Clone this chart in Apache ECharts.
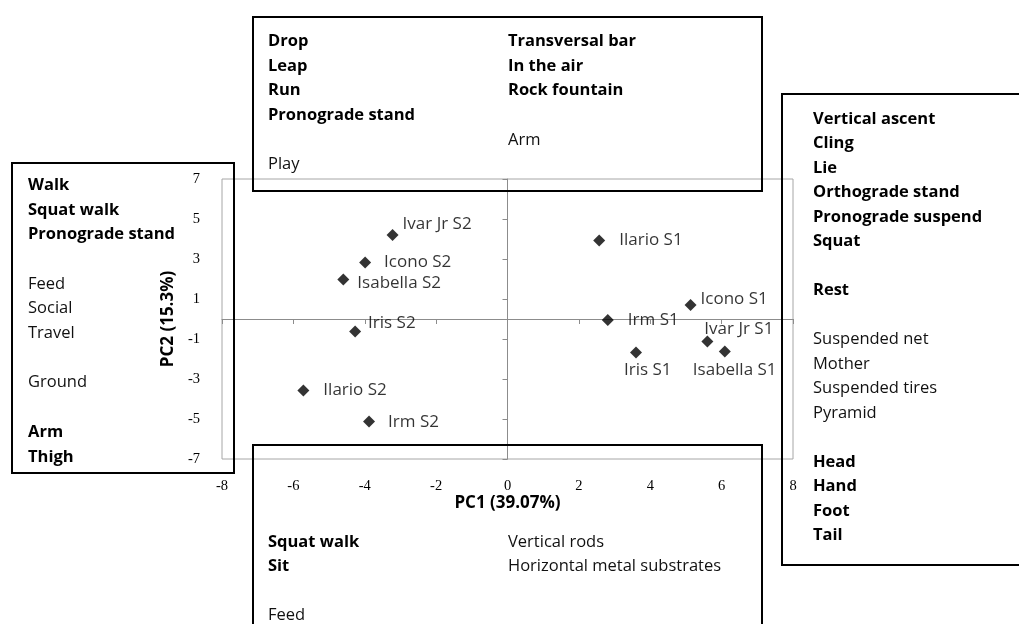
<!DOCTYPE html>
<html>
<head>
<meta charset="utf-8">
<script src="https://cdn.jsdelivr.net/npm/echarts@6/dist/echarts.min.js"></script>
<style>
html,body{margin:0;padding:0;background:#fff;}
#chart{width:1019px;height:624px;}
</style>
</head>
<body>
<div id="chart"></div>
<script>
// ---- data ----
const subjects = ['Ivar Jr S2','Icono S2','Isabella S2','Iris S2','Ilario S2','Irm S2',
                  'Ilario S1','Icono S1','Irm S1','Ivar Jr S1','Iris S1','Isabella S1'];
const pc1 = [-3.22,-3.99,-4.60,-4.27,-5.72,-3.88, 2.57,5.13,2.81,5.60,3.60,6.09];
const pc2 = [ 4.20, 2.82, 1.98,-0.63,-3.58,-5.13, 3.92,0.70,-0.05,-1.13,-1.68,-1.63];
const xAxisName = 'PC1 (39.07%)';
const yAxisName = 'PC2 (15.3%)';

// box texts: [text, bold]
const leftBoxLines = [['Walk',1],['Squat walk',1],['Pronograde stand',1],['',0],['Feed',0],['Social',0],['Travel',0],['',0],['Ground',0],['',0],['Arm',1],['Thigh',1]];
const topBoxLeft = [['Drop',1],['Leap',1],['Run',1],['Pronograde stand',1],['',0],['Play',0]];
const topBoxRight = [['Transversal bar',1],['In the air',1],['Rock fountain',1],['',0],['Arm',0]];
const rightBoxLines = [['Vertical ascent',1],['Cling',1],['Lie',1],['Orthograde stand',1],['Pronograde suspend',1],['Squat',1],['',0],['Rest',1],['',0],['Suspended net',0],['Mother',0],['Suspended tires',0],['Pyramid',0],['',0],['Head',1],['Hand',1],['Foot',1],['Tail',1]];
const bottomBoxLeft = [['Squat walk',1],['Sit',1],['',0],['Feed',0]];
const bottomBoxRight = [['Vertical rods',0],['Horizontal metal substrates',0]];

// ---- styling / label placement (pixels, not data) ----
const labelOffsets = [[10,-11],[19,0],[14,4],[13,-8],[20,0],[19,1],
                      [20,0],[10,-6],[20,0],[-3,-12],[-12,18],[-32,19]];
const SANS = '"Open Sans", sans-serif';
const SERIF = '"Liberation Serif", serif';
const FS = 16.5;

function richText(lines){
  return lines.map(l => l[0] === '' ? '{n| }' : (l[1] ? '{b|' + l[0] + '}' : '{n|' + l[0] + '}')).join('\n');
}
function textEl(lines, x, yFirst, lh){
  return {
    type:'text', left:x, top: yFirst - lh/2 + 6, z:10,
    style:{
      text: richText(lines),
      rich:{
        b:{fontFamily:SANS, fontSize:FS, fontWeight:'bold', fill:'#000', lineHeight:lh},
        n:{fontFamily:SANS, fontSize:FS, fontWeight:'normal', fill:'#111', lineHeight:lh}
      }
    }
  };
}
function boxEl(x,y,w,h){
  return {type:'rect', shape:{x:x,y:y,width:w,height:h}, z:9,
    style:{fill:'none', stroke:'#000', lineWidth:2}};
}

const chart = echarts.init(document.getElementById('chart'), null, {renderer:'canvas'});

const points = subjects.map((n,i)=>({
  name:n, value:[pc1[i], pc2[i]],
  label:{offset:[labelOffsets[i][0]-6, labelOffsets[i][1]]}
}));

const gridLine = '#a6a6a6';
const option = {
  backgroundColor:'#fff',
  animation:false,
  grid:{left:222, right:226, top:179, bottom:165, show:true, borderColor:gridLine, borderWidth:1, backgroundColor:'transparent'},
  xAxis:[
    {type:'value', min:-8, max:8, interval:2, position:'bottom',
     axisLine:{show:false, onZero:false}, axisTick:{show:false}, splitLine:{show:false},
     axisLabel:{margin:20, fontFamily:SERIF, fontSize:14.5, color:'#000'},
     name:xAxisName, nameLocation:'middle', nameGap:33,
     nameTextStyle:{fontFamily:SANS, fontSize:17, fontWeight:'bold', color:'#000'}},
    {type:'value', min:-8, max:8, interval:2, position:'top',
     axisLine:{show:true, onZero:true, onZeroAxisIndex:0, lineStyle:{color:'#8c8c8c', width:1}},
     axisTick:{show:true, inside:true, length:5, lineStyle:{color:'#8c8c8c'}},
     axisLabel:{show:false}, splitLine:{show:false}}
  ],
  yAxis:[
    {type:'value', min:-7, max:7, interval:2, position:'left',
     axisLine:{show:false, onZero:false}, axisTick:{show:false}, splitLine:{show:false},
     axisLabel:{margin:22, fontFamily:SERIF, fontSize:14.5, color:'#000'},
     name:yAxisName, nameLocation:'middle', nameGap:40,
     nameTextStyle:{fontFamily:SANS, fontSize:17, fontWeight:'bold', color:'#000'}},
    {type:'value', min:-7, max:7, interval:2, position:'right',
     axisLine:{show:true, onZero:true, onZeroAxisIndex:0, lineStyle:{color:'#8c8c8c', width:1}},
     axisTick:{show:true, inside:true, length:5, lineStyle:{color:'#8c8c8c'}},
     axisLabel:{show:false}, splitLine:{show:false}}
  ],
  series:[{
    type:'scatter', xAxisIndex:0, yAxisIndex:0,
    symbol:'diamond', symbolSize:12,
    itemStyle:{color:'#000'},
    label:{show:true, position:'right', distance:0, formatter:'{b}',
      fontFamily:SANS, fontSize:17, color:'#000'},
    data:points, z:5
  }],
  graphic:[
    boxEl(12,163,222,310),
    boxEl(253,17,509,174),
    boxEl(782,94,260,471),
    boxEl(253,445,509,200),
    textEl(leftBoxLines, 28, 183, 24.7),
    textEl(topBoxLeft, 268, 39, 24.7),
    textEl(topBoxRight, 508, 39, 24.7),
    textEl(rightBoxLines, 813, 117, 24.5),
    textEl(bottomBoxLeft, 268, 540, 24.5),
    textEl(bottomBoxRight, 508, 540, 24.5)
  ]
};
chart.setOption(option);
</script>
</body>
</html>
